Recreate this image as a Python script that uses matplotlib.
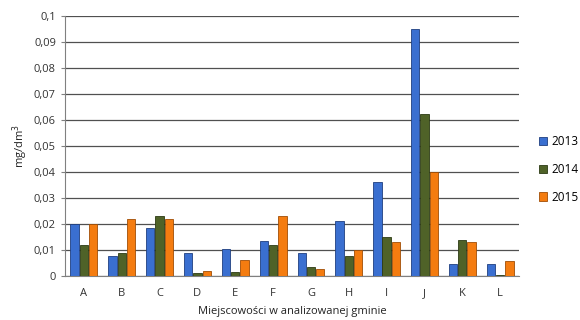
import numpy as np
import matplotlib
matplotlib.use('Agg')
import matplotlib.pyplot as plt
from matplotlib.ticker import FuncFormatter

plt.rcParams['font.family'] = ['Open Sans', 'DejaVu Sans']

places = ['A', 'B', 'C', 'D', 'E', 'F', 'G', 'H', 'I', 'J', 'K', 'L']
years = ['2013', '2014', '2015']
v2013 = [0.020, 0.0078, 0.0183, 0.0088, 0.0103, 0.0133, 0.0089, 0.0212, 0.0362, 0.0949, 0.0045, 0.0045]
v2014 = [0.012, 0.0088, 0.0230, 0.0010, 0.0015, 0.0118, 0.0035, 0.0076, 0.0148, 0.0621, 0.0139, 0.0005]
v2015 = [0.020, 0.0220, 0.0220, 0.0020, 0.0060, 0.0230, 0.0025, 0.0099, 0.0130, 0.0400, 0.0130, 0.0059]

colors = ['#3a6fd0', '#4f6228', '#f47c10']
edges = ['#1f3f80', '#2c3a14', '#a04d05']

fig = plt.figure(figsize=(5.8, 3.2), dpi=100)
ax = fig.add_axes([0.112, 0.138, 0.783, 0.812])

x = np.arange(len(places))
w = 0.22
for i, (vals, c, e, lab) in enumerate(zip([v2013, v2014, v2015], colors, edges, years)):
    ax.bar(x + (i - 1) * 0.245, vals, width=w, color=c, edgecolor=e, linewidth=0.6,
           label=lab, zorder=3)

ax.set_xlim(-0.5, len(places) - 0.5)
ax.set_ylim(0, 0.1)
ax.set_yticks(np.arange(0, 0.1001, 0.01))
ax.yaxis.set_major_formatter(FuncFormatter(lambda v, p: ('0' if abs(v) < 1e-9 else f'{v:.2f}'.rstrip('0')).replace('.', ',')))
ax.set_xticks(x)
ax.set_xticklabels(places)
ax.grid(axis='y', color='#505050', linewidth=0.9, zorder=0)
for s in ['top', 'right']:
    ax.spines[s].set_visible(False)
ax.spines['left'].set_color('#808080')
ax.spines['bottom'].set_color('#808080')
ax.tick_params(axis='y', labelsize=8, length=3, color='#808080', colors='#333333')
ax.tick_params(axis='x', labelsize=8, length=0, pad=9, colors='#333333')

ax.set_ylabel('mg/dm$^3$', fontsize=8, color='#222222', labelpad=3)
ax.set_xlabel('Miejscowości w analizowanej gminie', fontsize=8, color='#222222', labelpad=5)

ax.legend(loc='center left', bbox_to_anchor=(1.02, 0.41), frameon=False, fontsize=8.5,
          handlelength=0.7, handleheight=0.7, labelspacing=1.25, handletextpad=0.4)

fig.savefig('out.png', dpi=100)
